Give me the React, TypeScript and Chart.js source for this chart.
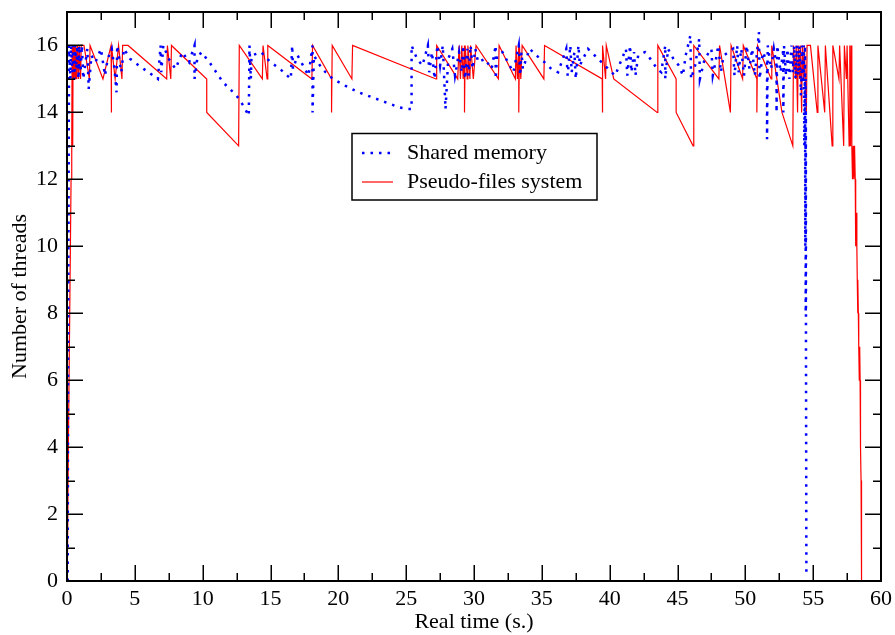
import React, { useEffect, useRef } from "react";
import { Chart, registerables } from "chart.js";

Chart.register(...registerables);

// ---- Data ----
const sharedTime = [
  0.05, 0.08, 0.12, 0.15, 0.25, 0.3, 0.4, 0.45, 0.55, 0.6, 0.7, 0.75, 0.85, 0.9, 1.0, 1.1, 1.2,
  1.5, 1.6, 1.8, 2.1, 2.5, 2.8, 3.0, 3.3, 3.5, 3.65, 3.7, 4.0, 4.2, 4.65, 5.3, 6.0, 6.7, 6.9, 6.95,
  7.1, 7.5, 8.0, 8.5, 9.0, 9.4, 9.4, 9.6, 9.9, 10.5, 11.0, 11.5, 12.0, 12.5, 13.0, 13.4, 13.45,
  13.55, 13.6, 14.3, 15.0, 15.7, 16.5, 16.6, 16.65, 17.0, 17.4, 17.8, 18.1, 18.1, 18.2, 18.8,
  19.6, 20.5, 21.5, 22.5, 23.5, 24.5, 25.1, 25.4, 25.4, 25.8, 26.2, 26.6, 26.7, 26.9, 27.1, 27.3,
  27.5, 27.7, 27.9, 28.1, 28.4, 28.6, 28.9, 29.1, 29.2, 29.35, 29.5, 29.6, 29.75, 29.9, 30.1,
  30.3, 30.8, 31.3, 31.6, 31.6, 31.7, 32.1, 32.5, 32.9, 33.3, 33.4, 33.5, 33.6, 34.1, 34.6, 35.2,
  35.7, 36.2, 36.8, 36.9, 37.1, 37.2, 37.4, 37.5, 37.7, 37.8, 38.4, 38.9, 39.4, 39.9, 40.4, 41.2,
  41.3, 41.5, 41.6, 41.8, 41.9, 42.1, 42.6, 43.0, 43.5, 43.8, 44.1, 44.1, 44.3, 44.7, 45.1, 45.4,
  45.6, 45.95, 46.0, 46.3, 46.6, 46.65, 47.0, 47.5, 47.6, 47.8, 48.0, 48.2, 48.4, 49.1, 49.2,
  49.4, 49.5, 49.7, 49.9, 50.1, 50.3, 50.5, 50.7, 51.0, 51.05, 51.3, 51.6, 51.6, 51.65, 51.9,
  52.1, 52.3, 52.3, 52.35, 52.6, 52.8, 52.8, 52.85, 53.0, 53.1, 53.25, 53.4, 53.5, 53.6, 53.7,
  53.8, 53.9, 54.0, 54.1, 54.2, 54.25, 54.3, 54.35, 54.4, 54.42, 54.44, 54.45, 54.46, 54.47, 54.5,
];
const sharedThreads = [
  0, 6, 12, 16, 15, 16, 15.2, 16, 15, 16, 15.3, 16, 15, 16, 15.2, 16, 15,
  15.9, 14.7, 15.7, 15.5, 15.9, 15.1, 15.6, 15.9, 15.3, 14.6, 16, 15.2, 15.9, 15.6, 15.4, 15.2, 15.0, 16, 15.2,
  16, 15.6, 15.3, 15.8, 15.5, 16, 15, 15.6, 15.8, 15.5, 15.2, 14.9, 14.7, 14.5, 14.2, 13.9, 16,
  15, 15.7, 15.8, 15.5, 15.3, 15.0, 16, 15.3, 15.7, 15.4, 15.1, 16, 14.0, 15.7, 15.3,
  15.0, 14.8, 14.6, 14.45, 14.3, 14.15, 14.1, 14.1, 16, 15.6, 15.4, 16, 15.2, 15.8, 15.0, 16,
  15.4, 16, 14.1, 15.6, 15.9, 15.1, 15.8, 15.2, 16, 15, 15.9, 15.1, 16, 15.3, 15.9,
  15.5, 15.6, 15.3, 16, 15, 15.7, 15.8, 15.5, 15.2, 16, 15.1, 15.8, 15.3, 15.9, 15.7, 15.5,
  15.3, 15.2, 15.9, 15.1, 16, 15.2, 15.8, 15.0, 16, 15.4, 15.9, 15.7, 15.5, 15.3, 15.1, 15.9,
  15.1, 16, 15.2, 15.8, 15.1, 15.7, 15.8, 15.6, 15.3, 15.2, 16, 15, 15.9, 15.6, 15.4, 15.1,
  15.7, 16.3, 15.0, 15.4, 16.2, 15.0, 15.6, 15.9, 15.1, 15.5, 16, 15.2, 15.7, 15.9, 15.1,
  16, 15.2, 15.9, 15.1, 16, 15.3, 15.9, 15.1, 16.4, 15.0, 15.8, 15.5, 13.2, 16, 15.3,
  15.9, 15.4, 14, 16, 15.2, 15.9, 14, 16, 15.1, 15.9, 15.0, 16, 15.2, 16, 15.0,
  16, 15.1, 16, 14.5, 16, 15, 16, 13, 16, 10, 15, 8, 14, 7, 0.2,
];

const pseudoTime = [
  0.02, 0.1, 0.2, 0.3, 0.35, 0.38, 0.42, 0.45, 0.5, 0.55, 0.6, 0.65, 0.72, 0.77, 0.85, 0.9, 1.0,
  1.05, 1.25, 1.65, 1.7, 2.65, 3.25, 3.25, 3.3, 3.55, 3.8, 4.05, 4.1, 4.5, 7.35, 7.4, 7.65, 7.7,
  10.3, 10.3, 12.65, 12.7, 14.4, 14.45, 14.75, 14.8, 18.05, 18.1, 19.5, 19.5, 19.55, 21.0, 21.05,
  27.2, 27.25, 28.8, 28.9, 29.0, 29.1, 29.2, 29.3, 29.3, 29.35, 29.5, 29.55, 29.7, 29.75, 29.95,
  30.15, 31.8, 31.85, 33.05, 33.1, 33.2, 33.3, 33.3, 33.35, 33.45, 33.55, 35.15, 35.2, 39.45,
  39.45, 39.5, 39.7, 39.75, 40.3, 43.5, 43.55, 44.9, 44.9, 46.15, 46.2, 48.05, 48.1, 48.9, 48.95,
  49.8, 49.85, 50.85, 50.85, 50.9, 51.9, 51.95, 52.7, 53.5, 53.55, 53.7, 53.75, 53.85, 53.9, 54.0,
  54.05, 54.15, 54.2, 54.3, 54.35, 54.5, 54.55, 54.8, 55.3, 55.35, 55.85, 55.9, 56.4, 56.45, 56.9,
  56.95, 57.25, 57.3, 57.45, 57.5, 57.65, 57.7, 57.75, 57.8, 57.85, 57.9, 57.95, 58.0, 58.05, 58.1,
  58.12, 58.15, 58.18, 58.22, 58.25, 58.28, 58.3, 58.33, 58.36, 58.4, 58.43, 58.46, 58.48, 58.5,
  58.53, 58.56, 58.57,
];
const pseudoThreads = [
  0, 4, 8, 12, 13, 16, 13, 16, 15, 16, 15, 16, 15, 16, 15, 16, 15,
  16, 16, 15, 16, 15, 16, 14, 16, 15, 16, 15, 16, 16, 15, 16, 15, 16,
  15, 14, 13, 16, 15, 16, 15, 16, 15, 16, 15, 14, 16, 15, 16,
  15, 16, 15, 16, 15, 16, 15, 16, 14, 16, 15, 16, 15, 16, 15,
  16, 15, 16, 15, 16, 15, 16, 14, 16, 15, 16, 15, 16, 15,
  14, 16, 15, 16, 15, 14, 16, 15, 14, 13, 16, 15, 16, 14, 16,
  15, 16, 15, 14, 16, 15, 16, 14, 13, 16, 15, 16, 14, 16, 15,
  16, 14, 16, 15, 16, 14, 16, 16, 14, 16, 14, 16, 13, 16, 15,
  16, 13, 16, 15, 16, 13, 16, 13, 16, 13, 12, 13, 12, 13, 12,
  11, 10, 11, 10, 9, 8, 9, 8, 7, 6, 7, 6, 5, 4,
  3, 3, 0,
];

const seriesNames = ["Shared memory", "Pseudo-files system"];
const xTickStep = 5;
const xMinorStep = 2.5;
const yTickStep = 2;
const yMinorStep = 1;
const X_MAX = 60;
const Y_MAX = 17;

const FONT = "'Liberation Serif', 'Times New Roman', serif";
const BLUE = "#0000ff";
const RED = "#ff0000";

const toPoints = (xs: number[], ys: number[]) => xs.map((x, i) => ({ x, y: ys[i] }));

const framePlugin = {
  id: "graceFrame",
  afterDatasetsDraw(chart: any) {
    const { ctx, chartArea: a, scales } = chart;
    const xs = scales.x;
    const ys = scales.y;
    ctx.save();
    ctx.strokeStyle = "#000";
    ctx.lineWidth = 1.5;
    const seg = (x1: number, y1: number, x2: number, y2: number) => {
      ctx.beginPath();
      ctx.moveTo(x1, y1);
      ctx.lineTo(x2, y2);
      ctx.stroke();
    };
    for (let v = 0; v <= X_MAX + 1e-9; v += xMinorStep) {
      const px = Math.round(xs.getPixelForValue(v)) + 0.25;
      const major = Math.abs(v / xTickStep - Math.round(v / xTickStep)) < 1e-6;
      const len = major ? 16 : 8;
      seg(px, a.bottom, px, a.bottom - len);
      seg(px, a.top, px, a.top + len);
    }
    for (let v = 0; v <= Y_MAX + 1e-9; v += yMinorStep) {
      const py = Math.round(ys.getPixelForValue(v)) + 0.25;
      const major = Math.abs(v / yTickStep - Math.round(v / yTickStep)) < 1e-6;
      const len = major ? 16 : 8;
      seg(a.left, py, a.left + len, py);
      seg(a.right, py, a.right - len, py);
    }
    ctx.lineWidth = 2;
    ctx.strokeRect(a.left, a.top, a.right - a.left, a.bottom - a.top);

    // legend box
    const bx = 352, by = 133.5, bw = 245, bh = 66.5;
    ctx.fillStyle = "#fff";
    ctx.fillRect(bx, by, bw, bh);
    ctx.lineWidth = 1.5;
    ctx.strokeRect(bx, by, bw, bh);
    ctx.strokeStyle = BLUE;
    ctx.lineWidth = 2.5;
    ctx.setLineDash([2.5, 6]);
    seg(362, 153, 394, 153);
    ctx.setLineDash([]);
    ctx.strokeStyle = RED;
    ctx.lineWidth = 1.2;
    seg(362, 182, 393, 182);
    ctx.fillStyle = "#000";
    ctx.font = `22px ${FONT}`;
    ctx.textBaseline = "alphabetic";
    ctx.textAlign = "left";
    ctx.fillText(seriesNames[0], 407, 158.5);
    ctx.fillText(seriesNames[1], 407, 187.5);
    ctx.restore();
  },
};

export default function App() {
  const ref = useRef<HTMLCanvasElement | null>(null);
  useEffect(() => {
    if (!ref.current) return;
    const chart = new Chart(ref.current, {
      type: "line",
      data: {
        datasets: [
          {
            label: seriesNames[0],
            data: toPoints(sharedTime, sharedThreads),
            borderColor: BLUE,
            backgroundColor: BLUE,
            borderWidth: 2.5,
            borderDash: [2.5, 6],
            pointRadius: 0,
            tension: 0,
            fill: false,
          },
          {
            label: seriesNames[1],
            data: toPoints(pseudoTime, pseudoThreads),
            borderColor: RED,
            backgroundColor: RED,
            borderWidth: 1.2,
            pointRadius: 0,
            tension: 0,
            fill: false,
          },
        ],
      },
      options: {
        responsive: false,
        animation: false,
        devicePixelRatio: 1,
        layout: { padding: { top: 12, right: 14, left: 0, bottom: 0 } },
        plugins: { legend: { display: false }, tooltip: { enabled: false } },
        scales: {
          x: {
            type: "linear",
            min: 0,
            max: X_MAX,
            grid: { display: false, drawTicks: false },
            border: { display: false },
            ticks: {
              stepSize: xTickStep,
              autoSkip: false,
              maxRotation: 0,
              color: "#000",
              padding: 5,
              font: { family: FONT, size: 22 },
            },
            title: {
              display: true,
              text: "Real time (s.)",
              color: "#000",
              font: { family: FONT, size: 22 },
              padding: { top: 0, bottom: 0 },
            },
            afterFit: (s: any) => {
              s.height = 54;
              s.paddingLeft = 0;
              s.paddingRight = 0;
            },
          },
          y: {
            type: "linear",
            min: 0,
            max: Y_MAX,
            grid: { display: false, drawTicks: false },
            border: { display: false },
            ticks: {
              stepSize: yTickStep,
              includeBounds: false,
              color: "#000",
              padding: 9,
              font: { family: FONT, size: 22 },
            },
            title: {
              display: true,
              text: "Number of threads",
              color: "#000",
              font: { family: FONT, size: 22 },
              padding: { top: 7, bottom: 0 },
            },
            afterFit: (s: any) => {
              s.width = 67;
              s.paddingTop = 0;
              s.paddingBottom = 0;
            },
          },
        },
      },
      plugins: [framePlugin],
    });
    return () => chart.destroy();
  }, []);
  return (
    <div style={{ position: "absolute", left: 0, top: 0, width: 895, height: 635, background: "#fff" }}>
      <canvas ref={ref} width={895} height={635} />
    </div>
  );
}
